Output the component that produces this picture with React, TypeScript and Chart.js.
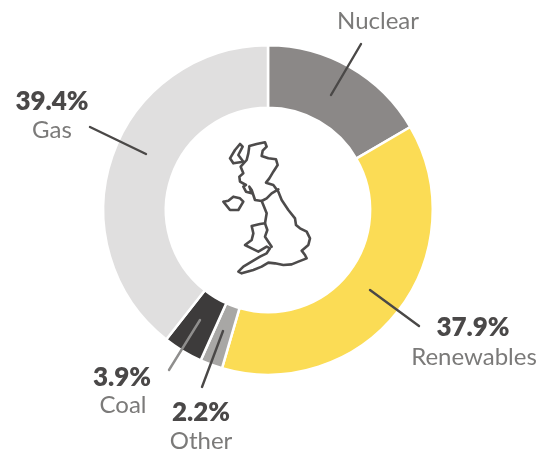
import React, { useEffect, useRef } from "react";
import { Chart, registerables } from "chart.js";

Chart.register(...registerables);

const categories = ["Nuclear", "Renewables", "Other", "Coal", "Gas"];
const shares = [16.6, 37.9, 2.2, 3.9, 39.4];
const shareLabels = ["", "37.9%", "2.2%", "3.9%", "39.4%"];
const colors = ["#8b8887", "#fbdc55", "#a8a7a5", "#3d3b3b", "#e0dfdf"];

const labelSpots = [
  { vx: 378, vy: 0, nx: 378, ny: 21 },
  { vx: 473, vy: 328, nx: 474, ny: 357 },
  { vx: 201, vy: 413, nx: 201, ny: 441 },
  { vx: 122, vy: 378, nx: 123, ny: 405 },
  { vx: 52, vy: 102, nx: 52, ny: 130 },
];
const leaders = [
  { a: [361, 44], b: [331, 95], c: "#4a4847" },
  { a: [370, 290], b: [419, 326], c: "#4a4847" },
  { a: [223, 331], b: [202, 387], c: "#4a4847" },
  { a: [200, 320], b: [169, 370], c: "#8f8e8d" },
  { a: [90, 127], b: [146, 154], c: "#4a4847" },
];

// UK outline, decoration in the doughnut hole (crop coordinates /3 + origin)
const mapOrigin = [210, 130];
const britain = [[118,48],[140,42],[165,37],[170,50],[158,62],[155,78],[175,85],[198,88],[203,105],[190,125],[178,145],[168,158],[190,165],[205,185],[215,210],[235,240],[255,265],[258,285],[270,295],[290,305],[300,325],[295,345],[275,362],[285,375],[290,385],[265,395],[245,403],[220,405],[195,400],[175,398],[155,410],[130,420],[95,430],[85,425],[100,410],[125,395],[150,380],[170,370],[180,355],[170,350],[145,365],[125,355],[105,345],[125,330],[130,310],[125,288],[150,282],[165,280],[170,250],[160,225],[155,213],[135,210],[125,180],[118,170],[125,190],[108,185],[100,170],[108,165],[90,155],[88,140],[100,130],[92,110],[110,90],[115,70],[118,48]];
const skye = [[60,85],[75,60],[90,42],[98,50],[85,75],[100,95],[70,100],[60,85]];
const ireland = [[40,215],[55,212],[70,200],[90,205],[100,215],[85,240],[60,240],[40,215]];
const scotBorder = [[155,213],[170,205],[185,190],[205,178]];
const walesBorder = [[165,280],[172,300],[165,320],[185,350]];

function drawMapPath(ctx: CanvasRenderingContext2D, pts: number[][]) {
  const p = pts.map(([x, y]) => [x / 3 + mapOrigin[0], y / 3 + mapOrigin[1]]);
  ctx.beginPath();
  ctx.moveTo(p[0][0], p[0][1]);
  for (let i = 1; i < p.length; i++) ctx.lineTo(p[i][0], p[i][1]);
  ctx.stroke();
}

const overlay = {
  id: "overlay",
  afterDraw(chart: Chart) {
    const ctx = chart.ctx;
    ctx.save();
    ctx.lineCap = "round";
    ctx.lineJoin = "round";
    ctx.lineWidth = 2.4;
    leaders.forEach((l) => {
      ctx.strokeStyle = l.c;
      ctx.beginPath();
      ctx.moveTo(l.a[0], l.a[1]);
      ctx.lineTo(l.b[0], l.b[1]);
      ctx.stroke();
    });
    ctx.strokeStyle = "#4d4b4b";
    ctx.lineWidth = 2.6;
    [britain, skye, ireland, scotBorder, walesBorder].forEach((s) => drawMapPath(ctx, s));

    ctx.textAlign = "center";
    ctx.textBaseline = "middle";
    categories.forEach((name, i) => {
      const s = labelSpots[i];
      if (shareLabels[i]) {
        ctx.font = "800 26px Lato";
        ctx.fillStyle = "#4a4848";
        ctx.fillText(shareLabels[i], s.vx, s.vy);
      }
      ctx.font = "400 24px Lato";
      ctx.fillStyle = "#7b7a79";
      ctx.fillText(name, s.nx, s.ny);
    });
    ctx.restore();
  },
};

export default function App() {
  const ref = useRef<HTMLCanvasElement>(null);
  useEffect(() => {
    document.body.style.margin = "0";
    const chart = new Chart(ref.current!, {
      type: "doughnut",
      data: {
        labels: categories,
        datasets: [
          {
            data: shares,
            backgroundColor: colors,
            borderColor: "#ffffff",
            borderWidth: 2.5,
            hoverOffset: 0,
            borderAlign: "center",
          },
        ],
      },
      options: {
        responsive: false,
        animation: false,
        cutout: "62%",
        layout: { padding: { left: 102, right: 116, top: 44, bottom: 76 } },
        plugins: { legend: { display: false }, tooltip: { enabled: false } },
      },
      plugins: [overlay],
    });
    return () => chart.destroy();
  }, []);
  return <canvas ref={ref} width={550} height={452} style={{ display: "block", background: "#fff", filter: "blur(0.5px)" }} />;
}
